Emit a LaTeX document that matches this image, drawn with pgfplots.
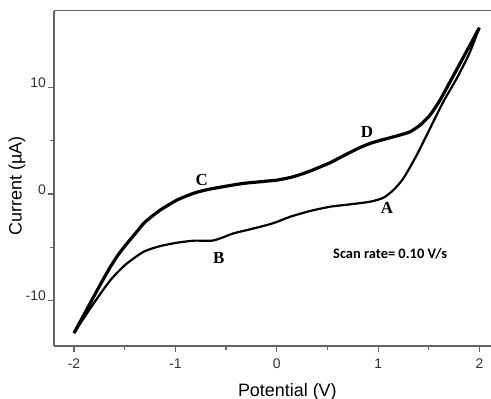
\documentclass[border=0pt]{standalone}
\usepackage{pgfplots}
\pgfplotsset{compat=1.18}
\usepackage{fontspec}
\setmainfont{Liberation Sans}
\newfontfamily\timesfont{Liberation Serif}
\newfontfamily\calibrifont{Carlito}
\definecolor{axgray}{RGB}{100,100,100}
\definecolor{lblgray}{RGB}{50,50,50}
\begin{document}
\begin{tikzpicture}
\begin{axis}[
  at={(0,0)}, anchor=south west,
  scale only axis,
  width=437bp, height=335.3bp,
  xmin=-2.197, xmax=2.113,
  ymin=-14.26, ymax=17.2,
  axis lines=left,
  axis line style={-, draw=axgray, line width=1.2bp},
  tick style={draw=axgray, line width=1.2bp},
  tick align=outside,
  major tick length=6bp,
  minor tick length=4bp,
  xtick={-2,-1,0,1,2},
  ytick={-10,0,10},
  minor x tick num=1,
  minor y tick num=1,
  /pgf/number format/assume math mode=true,
  ticklabel style={font=\fontsize{14}{14}\selectfont, text=lblgray},
  yticklabel style={anchor=base east, inner sep=0pt, xshift=-2bp},
  xticklabel style={anchor=north, inner sep=0pt, yshift=-7bp},
  xlabel={Potential (V)},
  ylabel={Current (µA)},
  label style={font=\fontsize{18}{18}\selectfont},
  xlabel style={at={(rel axis cs:0.534,0)}, anchor=base, yshift=-50bp},
  ylabel style={at={(rel axis cs:-0.0847,0.477)}, anchor=center, rotate=0},
  clip=false,
]
\addplot[black, line width=3.2bp, smooth, tension=0.4] coordinates {
(-2.0,-13.05) (-1.90,-11.3) (-1.805,-9.63) (-1.72,-8.15) (-1.64,-6.82)
(-1.56,-5.65) (-1.476,-4.63) (-1.39,-3.65) (-1.312,-2.75) (-1.23,-2.08)
(-1.148,-1.50) (-1.06,-0.98) (-0.983,-0.56) (-0.90,-0.22) (-0.82,0.07)
(-0.74,0.29) (-0.655,0.47) (-0.57,0.62) (-0.49,0.75) (-0.41,0.88)
(-0.327,1.0) (-0.245,1.08) (-0.163,1.15) (-0.08,1.23) (0.0,1.30)
(0.133,1.55) (0.23,1.82) (0.33,2.16) (0.43,2.55) (0.527,2.94)
(0.62,3.40) (0.724,3.91) (0.82,4.36) (0.921,4.75) (1.02,5.03)
(1.118,5.28) (1.22,5.55) (1.315,5.84) (1.414,6.47) (1.512,7.41)
(1.611,8.82) (1.709,10.53) (1.808,12.26) (1.906,13.98) (1.998,15.6)
};
\addplot[black, line width=2.2bp, smooth, tension=0.4] coordinates {
(1.998,15.6) (1.90,13.2) (1.775,10.85) (1.643,8.66) (1.512,6.16)
(1.381,3.66) (1.249,1.47) (1.151,0.38) (1.052,-0.35) (0.921,-0.72)
(0.724,-0.97) (0.527,-1.19) (0.33,-1.59) (0.133,-2.13) (0.0,-2.62)
(-0.097,-2.91) (-0.261,-3.31) (-0.426,-3.69) (-0.557,-4.16) (-0.64,-4.38)
(-0.82,-4.38) (-0.983,-4.57) (-1.148,-4.88) (-1.312,-5.41) (-1.476,-6.5)
(-1.56,-7.25) (-1.64,-8.07) (-1.72,-9.1) (-1.805,-10.25) (-1.90,-11.6)
(-2.0,-13.05)
};
\draw[axgray, line width=1.2bp] (rel axis cs:0,1) -- (rel axis cs:1,1);
\node[font=\timesfont\bfseries\fontsize{17}{17}\selectfont] at (axis cs:-0.74,1.35) {C};
\node[font=\timesfont\bfseries\fontsize{17}{17}\selectfont] at (axis cs:-0.573,-6.03) {B};
\node[font=\timesfont\bfseries\fontsize{17}{17}\selectfont] at (axis cs:0.889,5.85) {D};
\node[font=\timesfont\bfseries\fontsize{17}{17}\selectfont] at (axis cs:1.086,-1.3) {A};
\node[font=\calibrifont\bfseries\fontsize{14.5}{14.5}\selectfont] at (axis cs:1.118,-5.65) {Scan rate= 0.10 V/s};
\end{axis}
\pgfresetboundingbox
\path[use as bounding box] (-54bp,-53bp) rectangle (437bp,346bp);
\end{tikzpicture}
\end{document}
